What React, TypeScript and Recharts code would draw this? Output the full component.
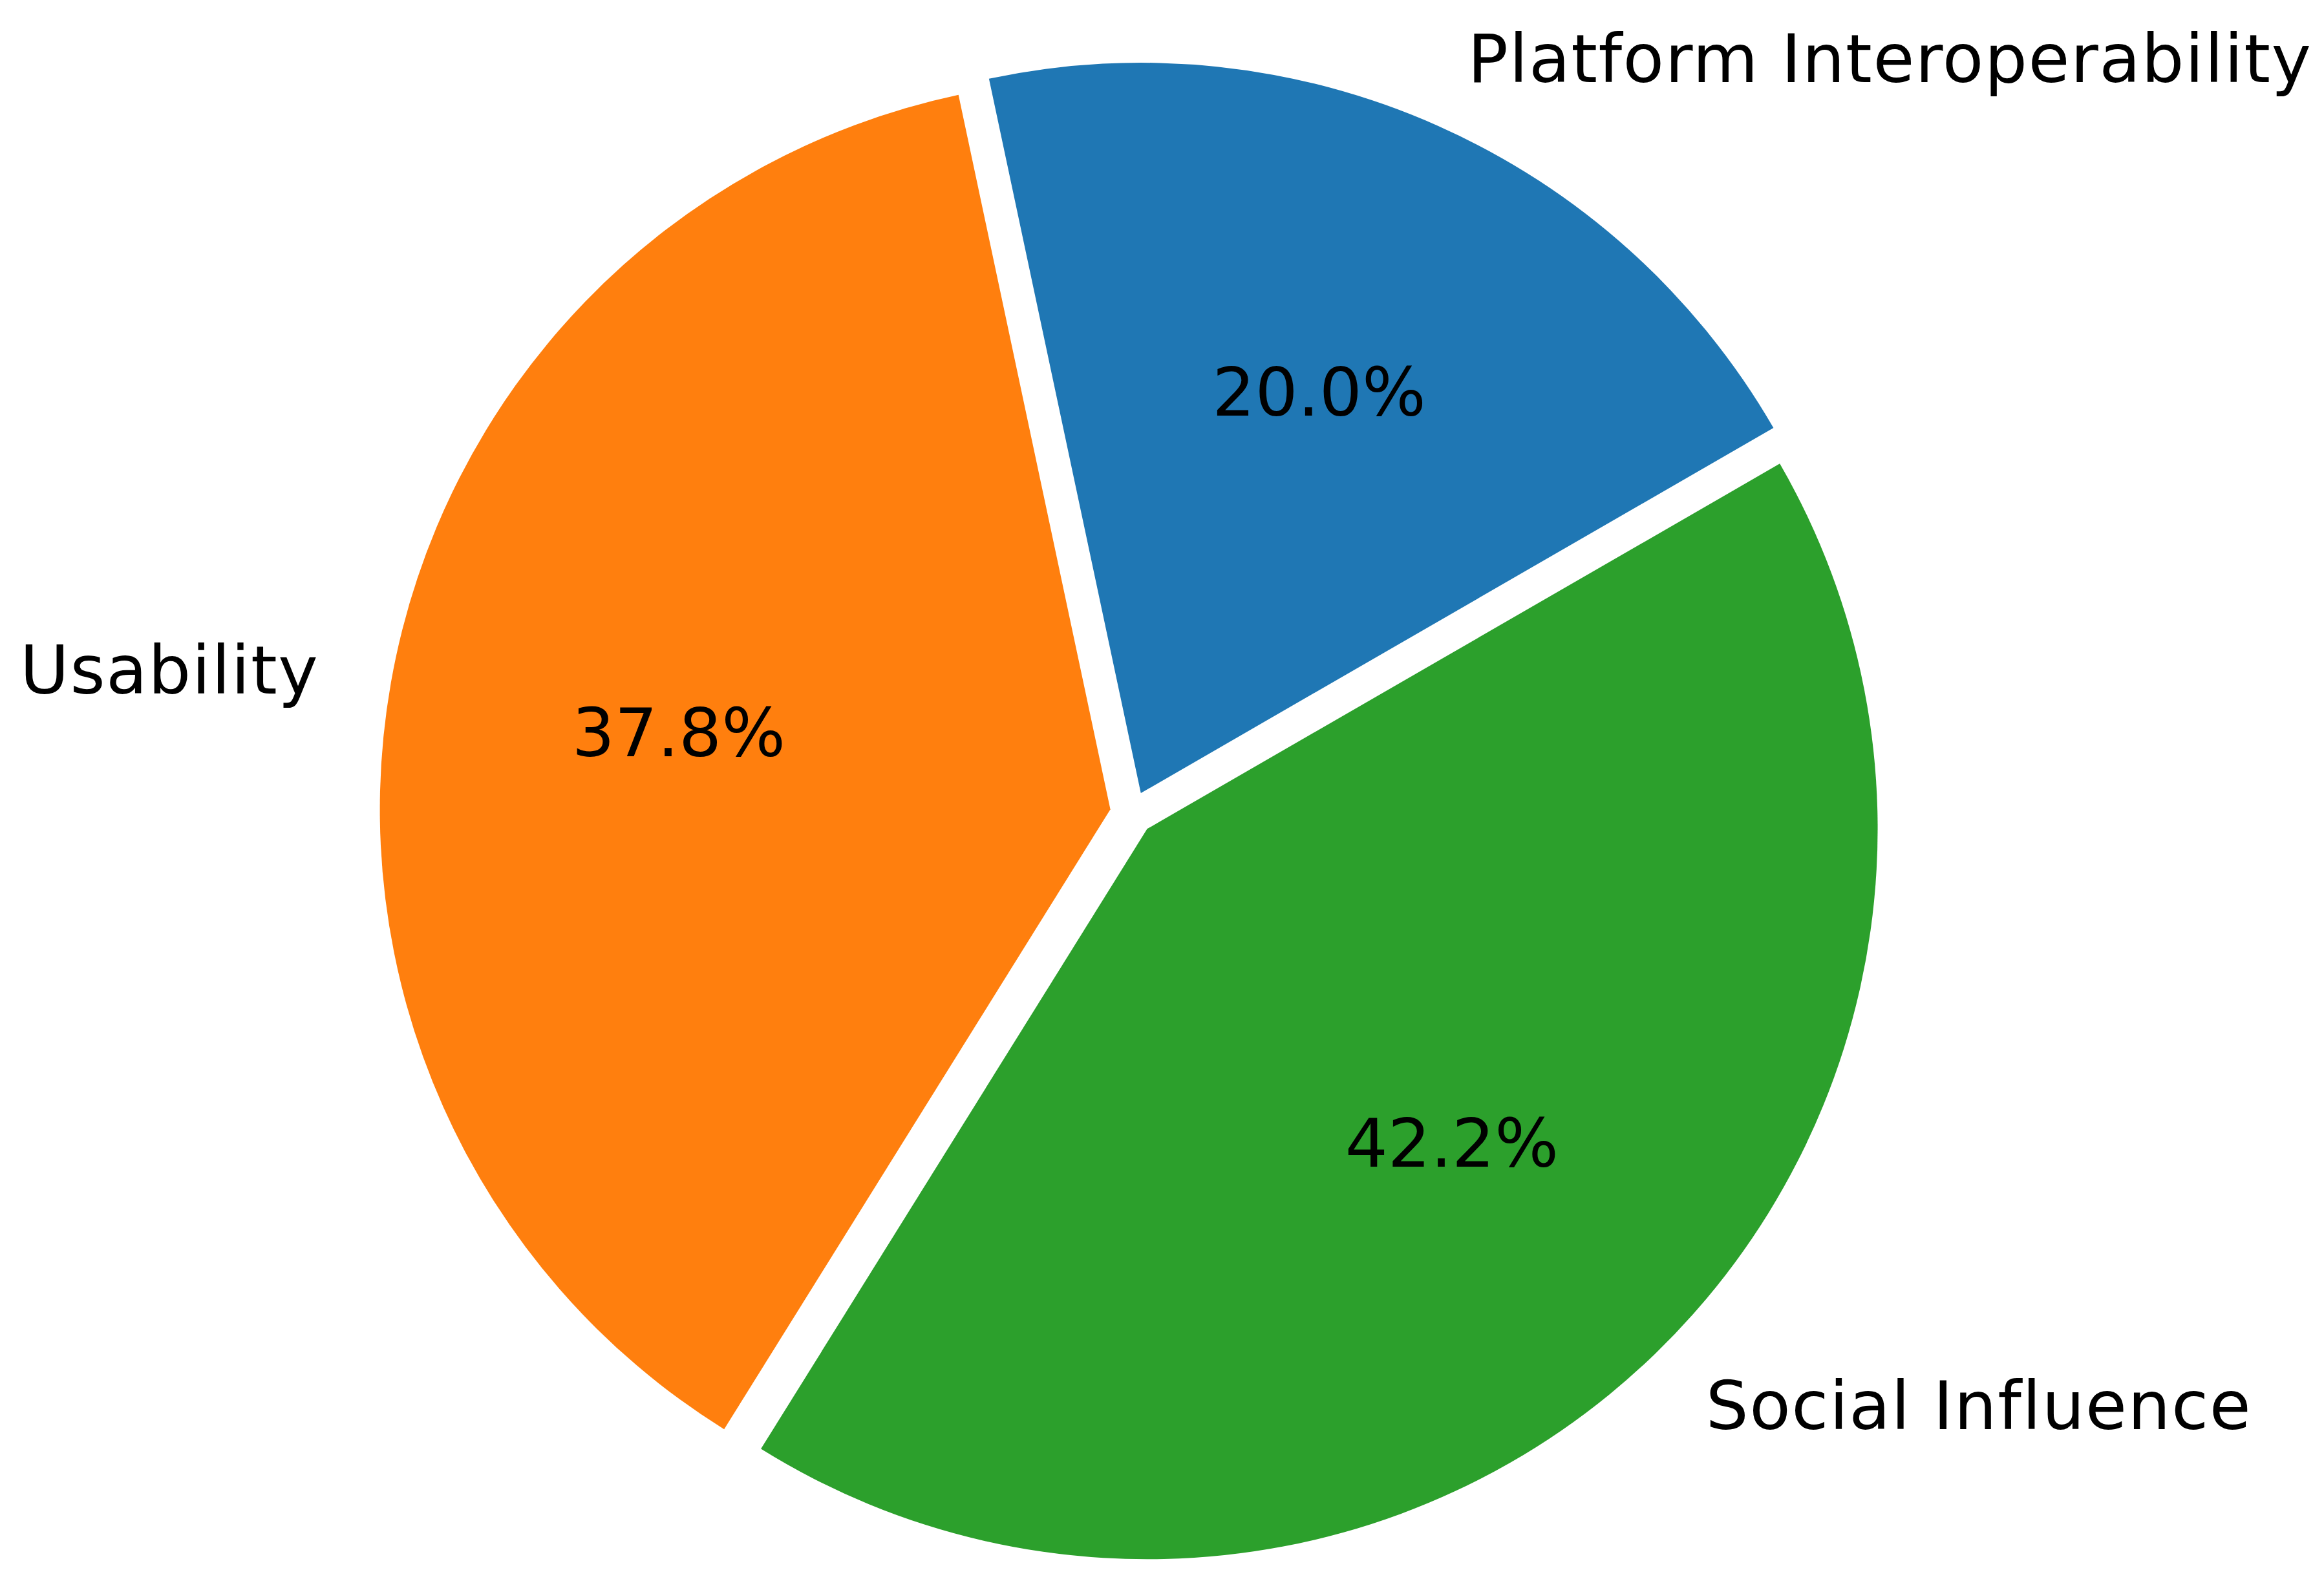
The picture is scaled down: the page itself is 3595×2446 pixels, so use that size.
import React from "react";
import { PieChart, Pie, Cell } from "recharts";

const categories = ["Platform Interoperability", "Usability", "Social Influence"];
const shares = [20.0, 37.8, 42.2];
const colors = ["#1f77b4", "#ff7f0e", "#2ca02c"];

const W = 3595;
const H = 2446;
const CX = 1751;
const CY = 1258;
const R = 1130;
const EXPLODE = 0.03;
const START = 30;
const FS = 104;
const FONT = "DejaVu Sans";

const data = categories.map((name, i) => ({ name, value: shares[i] }));
const total = shares.reduce((a, b) => a + b, 0);

function midAngleOf(i: number) {
  const before = shares.slice(0, i).reduce((a, b) => a + b, 0);
  return START + (360 * (before + shares[i] / 2)) / total;
}

const RAD = Math.PI / 180;

function makeLabel(target: number) {
  return (props: any) => {
    const { cx, cy, midAngle, outerRadius, percent, index, name } = props;
    if (index !== target) return null;
    const c = Math.cos(-midAngle * RAD);
    const s = Math.sin(-midAngle * RAD);
    const lx = cx + 1.1 * outerRadius * c;
    const ly = cy + 1.1 * outerRadius * s;
    const px = cx + 0.6 * outerRadius * c;
    const py = cy + 0.6 * outerRadius * s;
    const off = FS * 0.34;
    return (
      <g>
        <text
          x={px}
          y={py + off}
          textAnchor="middle"
          fontFamily={FONT}
          fontSize={FS}
          fill="#000"
        >
          {(percent * 100).toFixed(1) + "%"}
        </text>
        <text
          x={lx}
          y={ly + off}
          textAnchor={c >= 0 ? "start" : "end"}
          fontFamily={FONT}
          fontSize={FS}
          letterSpacing={1.5}
          fill="#000"
        >
          {name}
        </text>
      </g>
    );
  };
}

export default function App() {
  return (
    <div style={{ position: "absolute", left: 0, top: 0, width: W, height: H, background: "#fff" }}>
      <PieChart width={W} height={H} margin={{ top: 0, right: 0, bottom: 0, left: 0 }}>
        {categories.map((cat, i) => {
          const m = midAngleOf(i);
          const ox = CX + EXPLODE * R * Math.cos(m * RAD);
          const oy = CY - EXPLODE * R * Math.sin(m * RAD);
          return (
            <Pie
              key={cat}
              data={data}
              dataKey="value"
              nameKey="name"
              cx={ox}
              cy={oy}
              innerRadius={0}
              outerRadius={R}
              startAngle={START}
              endAngle={START + 360}
              stroke="none"
              labelLine={false}
              label={makeLabel(i)}
              isAnimationActive={false}
            >
              {data.map((d, j) => (
                <Cell key={d.name} fill={j === i ? colors[j] : "none"} stroke="none" />
              ))}
            </Pie>
          );
        })}
      </PieChart>
    </div>
  );
}
